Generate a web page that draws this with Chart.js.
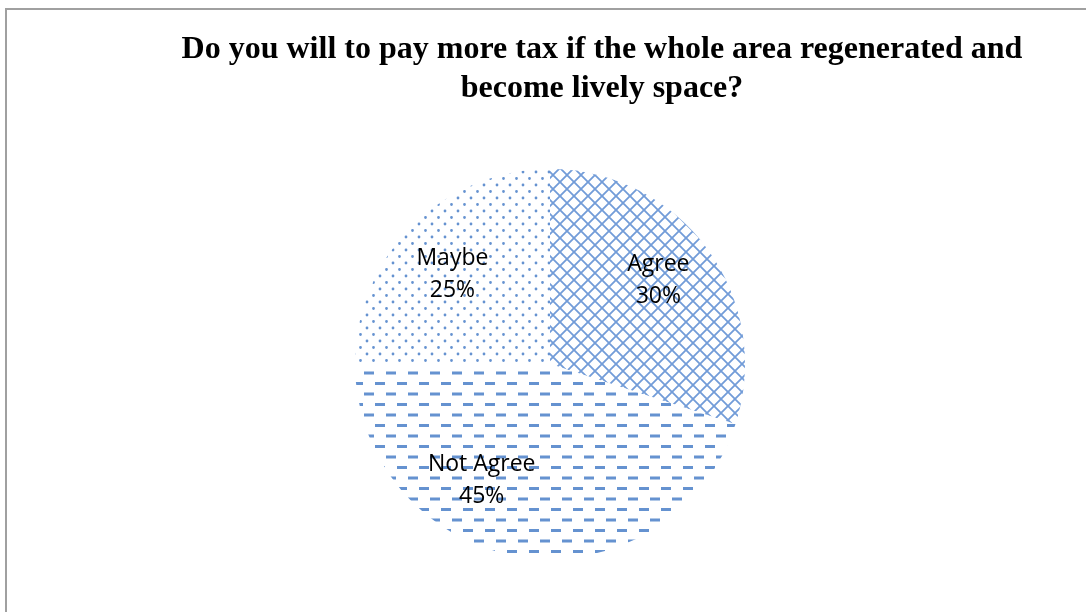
<!DOCTYPE html>
<html lang="en">
<head>
    <meta charset="UTF-8">
    <title>Tax Willingness Survey</title>
    <script src="https://cdn.jsdelivr.net/npm/chart.js"></script>
    <style>
        html, body { margin: 0; padding: 0; background: #fff; overflow: hidden; }
        #frame {
            position: absolute; left: 5px; top: 8px;
            width: 1200px; height: 800px;
            border: 2px solid #a0a0a0;
        }
        #title {
            position: absolute; left: 0; top: 28px; width: 1204px;
            text-align: center;
            font-family: "Liberation Serif", "Times New Roman", serif;
            font-weight: bold; font-size: 32px; line-height: 39px;
            color: #000;
        }
        #chart-container { position: absolute; left: 0; top: 0; width: 1086px; height: 612px; }
    </style>
</head>
<body>
    <div id="frame"></div>
    <div id="chart-container">
        <canvas id="pieChart"></canvas>
    </div>
    <div id="title">Do you will to pay more tax if the whole area regenerated and<br>become lively space?</div>

    <script>
        const categories = ['Agree', 'Not Agree', 'Maybe'];
        const shares = [30, 45, 25];
        const shareLabels = ['30%', '45%', '25%'];

        const BLUE = '#6592d0';

        // fill patterns: cross-hatch, horizontal dashes, dots
        function makeTile(w, h, draw) {
            const c = document.createElement('canvas');
            c.width = w; c.height = h;
            const g = c.getContext('2d');
            g.fillStyle = '#fff';
            g.fillRect(0, 0, w, h);
            draw(g);
            return document.createElement('canvas').getContext('2d').createPattern(c, 'repeat');
        }

        const hatch = makeTile(14, 14, g => {
            g.strokeStyle = '#729cd8';
            g.lineWidth = 1.8;
            g.beginPath();
            g.moveTo(-1, -1); g.lineTo(15, 15);
            g.moveTo(15, -1); g.lineTo(-1, 15);
            g.stroke();
        });

        const dashes = makeTile(22, 21, g => {
            g.fillStyle = BLUE;
            g.fillRect(1, 4, 10, 3);
            g.fillRect(12, 14.5, 10, 3);
        });

        const dots = makeTile(13, 13, g => {
            g.fillStyle = BLUE;
            g.beginPath();
            g.arc(3, 3, 1.4, 0, Math.PI * 2);
            g.arc(9.5, 9.5, 1.4, 0, Math.PI * 2);
            g.fill();
        });

        // category name + percentage inside each slice
        const sliceLabels = {
            id: 'sliceLabels',
            afterDatasetsDraw(chart, args, opts) {
                const ctx = chart.ctx;
                const meta = chart.getDatasetMeta(0);
                ctx.save();
                ctx.font = opts.font;
                ctx.fillStyle = '#000';
                ctx.textAlign = 'center';
                ctx.textBaseline = 'middle';
                meta.data.forEach((arc, i) => {
                    const p = arc.getProps(['x', 'y', 'startAngle', 'endAngle', 'outerRadius'], true);
                    const mid = (p.startAngle + p.endAngle) / 2 + opts.shift[i] * Math.PI / 180;
                    const r = p.outerRadius * opts.dist[i];
                    const x = p.x + Math.cos(mid) * r;
                    const y = p.y + Math.sin(mid) * r;
                    ctx.fillText(categories[i], x, y - 13);
                    ctx.fillText(shareLabels[i], x, y + 19);
                });
                ctx.restore();
            }
        };

        new Chart(document.getElementById('pieChart'), {
            type: 'pie',
            data: {
                labels: categories,
                datasets: [{
                    data: shares,
                    backgroundColor: [hatch, dashes, dots],
                    borderWidth: 0
                }]
            },
            options: {
                responsive: true,
                maintainAspectRatio: false,
                animation: false,
                layout: { padding: { left: 355, right: 341, top: 169, bottom: 53 } },
                plugins: {
                    legend: { display: false },
                    tooltip: { enabled: false },
                    sliceLabels: {
                        font: '23px "Open Sans", sans-serif',
                        dist: [0.71, 0.68, 0.69],
                        shift: [-2.5, 22, -1.5]
                    }
                }
            },
            plugins: [sliceLabels]
        });
    </script>
</body>
</html>
